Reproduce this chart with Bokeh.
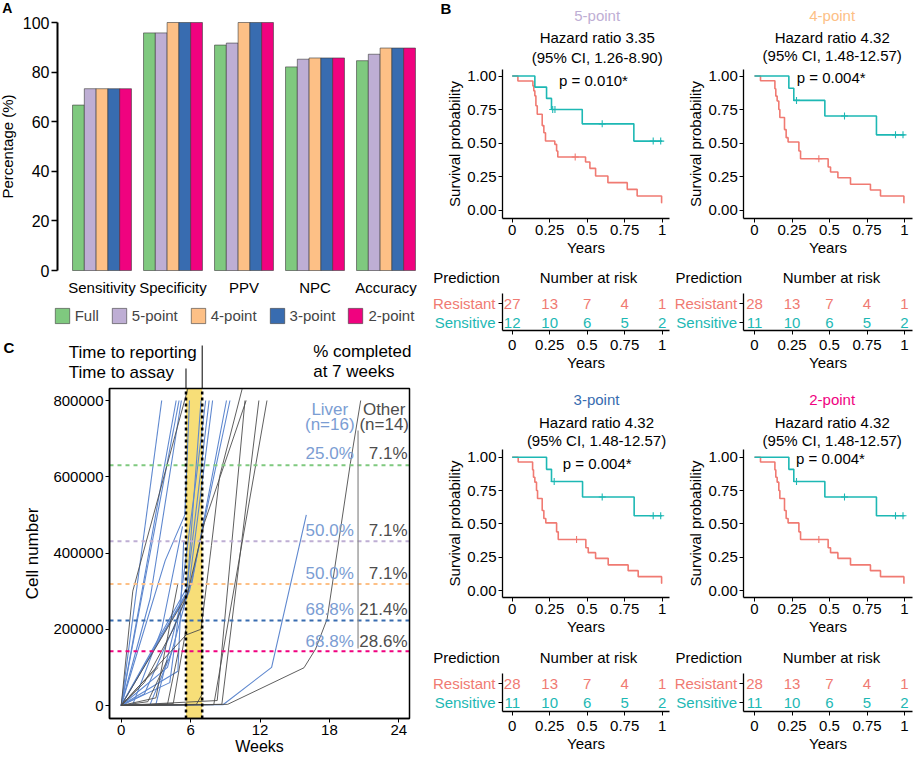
import numpy as np
from bokeh.plotting import figure
from bokeh.models import (ColumnDataSource, Range1d, FixedTicker, BoxAnnotation,
                          NumeralTickFormatter)
from bokeh.layouts import row, column
from bokeh.embed import file_html
from bokeh.resources import INLINE
from bokeh.core.properties import value
from bokeh.transform import dodge

FONT = "Liberation Sans"

# ---------------- Panel A data ----------------
metrics = ["Sensitivity", "Specificity", "PPV", "NPC", "Accuracy"]
models = ["Full", "5-point", "4-point", "3-point", "2-point"]
full_pct = [66.7, 95.8, 90.9, 82.1, 84.6]
p5_pct = [73.3, 95.8, 91.7, 85.2, 87.2]
p4_pct = [73.3, 100.0, 100.0, 85.7, 89.7]
p3_pct = [73.3, 100.0, 100.0, 85.7, 89.7]
p2_pct = [73.3, 100.0, 100.0, 85.7, 89.7]
model_colors = ["#7FC97F", "#BEAED4", "#FDC086", "#386CB0", "#F0027F"]

# ---------------- Panel B data ----------------
km_titles = ["5-point", "4-point", "3-point", "2-point"]
km_hr = ["Hazard ratio 3.35", "Hazard ratio 4.32", "Hazard ratio 4.32", "Hazard ratio 4.32"]
km_ci = ["(95% CI, 1.26-8.90)", "(95% CI, 1.48-12.57)", "(95% CI, 1.48-12.57)",
         "(95% CI, 1.48-12.57)"]
km_p = ["p = 0.010*", "p = 0.004*", "p = 0.004*", "p = 0.004*"]

km1_res_t = [0, 0.038, 0.138, 0.144, 0.151, 0.158, 0.167, 0.200, 0.211, 0.222, 0.284, 0.296,
             0.304, 0.489, 0.518, 0.556, 0.638, 0.767, 0.833, 0.996, 1.0]
km1_res_s = [1.0, 0.963, 0.926, 0.889, 0.852, 0.778, 0.714, 0.630, 0.577, 0.515, 0.490, 0.440,
             0.396, 0.358, 0.311, 0.254, 0.204, 0.154, 0.104, 0.055, 0.055]
km1_sen_t = [0, 0.151, 0.229, 0.262, 0.467, 0.811, 1.0]
km1_sen_s = [1.0, 0.917, 0.833, 0.750, 0.643, 0.514, 0.514]
km1_res_cens_t = [0.42]
km1_res_cens_s = [0.396]
km1_sen_cens_t = [0.27, 0.285, 0.60, 0.94, 0.99]
km1_sen_cens_s = [0.750, 0.750, 0.643, 0.514, 0.514]

km2_res_t = [0, 0.040, 0.136, 0.142, 0.151, 0.162, 0.169, 0.200, 0.211, 0.224, 0.296, 0.307,
             0.491, 0.507, 0.556, 0.640, 0.773, 0.840, 0.996, 1.0]
km2_res_s = [1.0, 0.964, 0.905, 0.850, 0.813, 0.750, 0.690, 0.600, 0.540, 0.507, 0.440, 0.383,
             0.321, 0.284, 0.241, 0.192, 0.149, 0.104, 0.055, 0.055]
km2_sen_t = [0, 0.229, 0.262, 0.469, 0.813, 1.0]
km2_sen_s = [1.0, 0.909, 0.818, 0.701, 0.561, 0.561]
km2_res_cens_t = [0.429]
km2_res_cens_s = [0.383]
km2_sen_cens_t = [0.28, 0.60, 0.94, 0.99]
km2_sen_cens_s = [0.818, 0.701, 0.561, 0.561]

risk_times = [0, 0.25, 0.5, 0.75, 1.0]
km1_risk_res = [27, 13, 7, 4, 1]
km1_risk_sen = [12, 10, 6, 5, 2]
km2_risk_res = [28, 13, 7, 4, 1]
km2_risk_sen = [11, 10, 6, 5, 2]

# ---------------- Panel C data ----------------
assay_week = 5.6
report_week = 7.0
thresholds = [630000, 431000, 319000, 223000, 142000]
liver_pct = ["25.0%", "50.0%", "50.0%", "68.8%", "68.8%"]
other_pct = ["7.1%", "7.1%", "7.1%", "21.4%", "28.6%"]

liver_weeks = [
    [0, 3.5], [0, 1.5, 4.75], [0, 5.0], [0, 2.5, 5.2], [0, 3.8, 5.5, 5.9],
    [0, 5.7, 6.9], [0, 5.6, 7.6], [0, 4.0, 5.8, 7.9], [0, 6.1, 9.1], [0, 2.0, 5.9, 9.4],
    [0, 8.8, 13.0, 16.0], [0, 4.9, 5.4], [0, 1.0, 3.5, 5.3], [0, 2.5, 4.5], [0, 3.0, 5.0],
    [0, 4.2, 6.5, 7.3]]
liver_cells = [
    [0, 800000], [0, 250000, 800000], [0, 800000], [0, 280000, 800000],
    [0, 380000, 500000, 800000], [0, 310000, 800000], [0, 290000, 800000],
    [0, 100000, 300000, 800000], [0, 320000, 800000], [0, 30000, 300000, 800000],
    [0, 2000, 100000, 500000], [0, 90000, 430000], [0, 3000, 200000, 470000], [0, 3000, 150000],
    [0, 3000, 250000], [0, 60000, 600000, 800000]]
other_weeks = [
    [0, 1.0, 5.75], [0, 5.6, 6.9, 7.8, 8.5, 10.45], [0, 8.3, 10.7], [0, 8.7, 11.9],
    [0, 9.2, 15.8, 16.8, 17.8, 19.8, 20.7], [0, 8.0, 12.6], [0, 5.7, 7.2, 10.8],
    [0, 2.0, 4.5, 5.8], [0, 4.0, 5.0], [0, 3.0, 4.9], [0, 6.5, 7.0], [0, 2.3, 4.0],
    [0, 1.5, 3.2], [0, 4.5, 5.6]]
other_cells = [
    [0, 300000, 830000], [0, 185000, 200000, 420000, 600000, 830000], [0, 13000, 800000],
    [0, 3000, 800000], [0, 3000, 99000, 148000, 227000, 634000, 800000], [0, 2000, 800000],
    [0, 290000, 480000, 800000], [0, 60000, 200000, 300000], [0, 3000, 150000],
    [0, 20000, 320000], [0, 3000, 30000], [0, 10000, 120000], [0, 50000, 100000],
    [0, 5000, 200000]]

RED = "#F07A72"
TEAL = "#1DB8B4"
LIVER = "#5F88CF"
LIVER_TXT = "#7B9DD3"
OTHER = "#4d4d4d"


class Frame:
    """Maps page pixels to data units for a figure whose frame fills the whole figure."""
    def __init__(self, ox, oy, w, h, x0px, xs, y0px, ys):
        self.ox, self.oy, self.w, self.h = ox, oy, w, h
        self.x0px, self.xs, self.y0px, self.ys = x0px, xs, y0px, ys
        self.xr = ((ox - x0px) / xs, (ox + w - x0px) / xs)
        self.yr = ((y0px - (oy + h)) / ys, (y0px - oy) / ys)

    def x(self, X):
        return (X - self.x0px) / self.xs

    def y(self, Y):
        return (self.y0px - Y) / self.ys


def make_fig(F):
    p = figure(width=F.w, height=F.h, output_backend="svg", toolbar_location=None,
               x_range=Range1d(*F.xr), y_range=Range1d(*F.yr), title=None,
               min_border=0, min_border_left=0, min_border_right=0, min_border_top=0,
               min_border_bottom=0)
    p.grid.visible = False
    p.outline_line_color = None
    p.background_fill_color = "white"
    p.border_fill_color = "white"
    return p


def style_axis(ax, size="15px", lsize="15px"):
    ax.major_label_text_font = FONT
    ax.major_label_text_font_size = size
    ax.major_label_text_color = "black"
    ax.axis_label_text_font = FONT
    ax.axis_label_text_font_size = lsize
    ax.axis_label_text_font_style = "normal"
    ax.axis_label_text_color = "black"
    ax.axis_line_color = "black"
    ax.major_tick_line_color = "black"
    ax.minor_tick_line_color = None
    ax.major_tick_in = 0


def txt(p, F, X, Y, text, size="15px", color="black", align="left", style="normal"):
    p.text(x=[F.x(X)], y=[F.y(Y)], text=[text], text_font=value(FONT),
           text_font_size=value(size), text_color=color, text_align=align,
           text_baseline="middle", text_font_style=style)


# ================= Panel A =================
FA = Frame(0, 0, 430, 330, 101.5, 71.0, 270.0, 2.48)
pA = make_fig(FA)
srcA = ColumnDataSource(dict(idx=list(range(len(metrics))), full=full_pct, p5=p5_pct,
                             p4=p4_pct, p3=p3_pct, p2=p2_pct))
bw = 0.166
for j, (col, name) in enumerate(zip(["full", "p5", "p4", "p3", "p2"], models)):
    pA.vbar(x=dodge("idx", (j - 2) * bw), top=col, width=bw, source=srcA,
            fill_color=model_colors[j], line_color="#3a3a3a", line_width=0.6, legend_label=name)
ya = pA.yaxis[0]
style_axis(ya, "16px", "15px")
ya.fixed_location = FA.x(57)
ya.bounds = (0, 100)
ya.ticker = FixedTicker(ticks=[0, 20, 40, 60, 80, 100])
ya.axis_label = "Percentage (%)"
ya.axis_line_width = 2
ya.major_tick_line_width = 1.5
ya.major_tick_out = 6
ya.major_label_standoff = 2
ya.axis_label_standoff = 4
xa = pA.xaxis[0]
style_axis(xa, "15px")
xa.fixed_location = 0
xa.ticker = FixedTicker(ticks=list(range(len(metrics))))
xa.major_label_overrides = {i: m for i, m in enumerate(metrics)}
xa.axis_line_color = None
xa.major_tick_line_color = None
xa.major_tick_out = 0
xa.major_label_standoff = 8
leg = pA.legend[0]
leg.location = (52.7, 5)
leg.orientation = "horizontal"
leg.glyph_width = 18
leg.glyph_height = 19
leg.label_height = 19
leg.label_standoff = 4
leg.spacing = 11
leg.padding = 0
leg.margin = 0
leg.border_line_color = None
leg.background_fill_alpha = 0
leg.label_text_font = FONT
leg.label_text_font_size = "15px"
txt(pA, FA, 1.7, 7.5, "A", size="14px", style="bold")

# ================= Panel C =================
FC = Frame(0, 330, 430, 428, 120.7, 11.57, 705.0, 305.0 / 800000)
pC = make_fig(FC)
box_l, box_r, box_b, box_t = FC.x(109), FC.x(409), FC.y(718), FC.y(388)
pC.quad(left=[assay_week], right=[report_week], bottom=[box_b], top=[box_t],
        fill_color="#F7DE78", line_color=None)
pC.multi_line(liver_weeks, liver_cells, line_color=LIVER, line_width=1.1)
pC.multi_line(other_weeks, other_cells, line_color=OTHER, line_width=0.9)
pC.segment(x0=[box_l] * len(thresholds), x1=[box_r] * len(thresholds), y0=thresholds,
           y1=thresholds, line_color=model_colors, line_width=2, line_dash="4 4")
pC.segment(x0=[assay_week, report_week], x1=[assay_week, report_week], y0=[box_b, box_b],
           y1=[box_t, box_t], line_color="black", line_width=2.5, line_dash="3 3")
pC.segment(x0=[report_week, assay_week], x1=[report_week, assay_week], y0=[box_t, box_t],
           y1=[FC.y(345), FC.y(368)], line_color="black", line_width=1)
pC.line([20.47, 20.47], [149500, 721000], line_color="#8a8a8a", line_width=1.2)
pC.add_layout(BoxAnnotation(left=box_l, right=box_r, bottom=box_b, top=box_t,
                            fill_color=None, fill_alpha=0, line_color="black",
                            line_alpha=1.0, line_width=1.5))
pc_rows = [660000, 459000, 345000, 251000, 168000]
pC.text(x=[18.03, 18.03], y=[776000, 737000], text=["Liver", "(n=16)"], text_color=LIVER_TXT,
        text_font=value(FONT), text_font_size=value("17px"), text_align="center",
        text_baseline="middle")
pC.text(x=[22.73, 22.73], y=[776000, 737000], text=["Other", "(n=14)"], text_color=OTHER,
        text_font=value(FONT), text_font_size=value("17px"), text_align="center",
        text_baseline="middle")
pC.text(x=[20.1] * 5, y=pc_rows, text=liver_pct, text_color=LIVER_TXT,
        text_font=value(FONT), text_font_size=value("17px"), text_align="right",
        text_baseline="middle")
pC.text(x=[24.75] * 5, y=pc_rows, text=other_pct, text_color=OTHER,
        text_font=value(FONT), text_font_size=value("17px"), text_align="right",
        text_baseline="middle")
xc, yc = pC.xaxis[0], pC.yaxis[0]
style_axis(xc, "15px", "16px")
style_axis(yc, "15px", "17px")
xc.fixed_location = box_b
xc.bounds = (box_l, box_r)
xc.ticker = FixedTicker(ticks=[0, 6, 12, 18, 24])
xc.axis_label = "Weeks"
xc.axis_line_width = 1.5
xc.major_tick_out = 4
xc.major_label_standoff = 2
xc.axis_label_standoff = 0
yc.fixed_location = box_l
yc.bounds = (box_b, box_t)
yc.ticker = FixedTicker(ticks=[0, 200000, 400000, 600000, 800000])
yc.formatter = NumeralTickFormatter(format="0")
yc.axis_label = "Cell number"
yc.axis_line_width = 1.5
yc.major_tick_out = 4
yc.major_label_standoff = 2
yc.axis_label_standoff = 8
txt(pC, FC, 3, 347, "C", size="15px", style="bold")
txt(pC, FC, 68.3, 351.7, "Time to reporting", size="17px")
txt(pC, FC, 68.3, 371.7, "Time to assay", size="17px")
txt(pC, FC, 312.7, 350.7, "% completed", size="17px")
txt(pC, FC, 312.7, 370.7, "at 7 weeks", size="17px")


# ================= Panel B =================
def km_plot(F, k, ax_px, ax_bot_px, ax_top_px, res_t, res_s, sen_t, sen_s,
            rct, rcs, sct, scs, cx, ys, pxy, letter=False):
    p = make_fig(F)
    p.step(res_t, res_s, mode="after", line_color=RED, line_width=1.6)
    p.step(sen_t, sen_s, mode="after", line_color=TEAL, line_width=1.6)
    p.scatter(rct, rcs, marker="cross", size=7, line_color=RED, line_width=1.1)
    p.scatter(sct, scs, marker="cross", size=7, line_color=TEAL, line_width=1.1)
    xk, yk = p.xaxis[0], p.yaxis[0]
    for ax in (xk, yk):
        style_axis(ax, "15px", "15px")
        ax.axis_line_width = 1.3
        ax.major_tick_out = 4
        ax.major_label_standoff = 2
        ax.axis_label_standoff = 1
    xk.fixed_location = F.y(ax_bot_px)
    xk.bounds = (F.x(ax_px), 1.05)
    xk.ticker = FixedTicker(ticks=risk_times)
    xk.formatter = NumeralTickFormatter(format="0.[00]")
    xk.axis_label = "Years"
    yk.fixed_location = F.x(ax_px)
    yk.bounds = (F.y(ax_bot_px), F.y(ax_top_px))
    yk.ticker = FixedTicker(ticks=[0, 0.25, 0.5, 0.75, 1.0])
    yk.formatter = NumeralTickFormatter(format="0.00")
    yk.axis_label = "Survival probability"
    txt(p, F, cx, ys[0], km_titles[k], color=model_colors[k + 1], align="center")
    txt(p, F, cx, ys[1], km_hr[k], align="center")
    txt(p, F, cx, ys[2], km_ci[k], align="center")
    txt(p, F, pxy[0], pxy[1], km_p[k], align="center")
    if letter:
        txt(p, F, 440, 8, "B", size="15px", style="bold")
    return p


def risk_table(F, ax_px, fr_bot_px, fr_top_px, res, sen, xs, ys):
    p = make_fig(F)
    p.text(x=risk_times, y=[2] * 5, text=[str(v) for v in res], text_color=RED,
           text_font=value(FONT), text_font_size=value("15px"), text_align="center",
           text_baseline="middle")
    p.text(x=risk_times, y=[1] * 5, text=[str(v) for v in sen], text_color=TEAL,
           text_font=value(FONT), text_font_size=value("15px"), text_align="center",
           text_baseline="middle")
    xk, yk = p.xaxis[0], p.yaxis[0]
    for ax in (xk, yk):
        style_axis(ax, "15px", "15px")
        ax.axis_line_width = 1.3
        ax.major_tick_out = 4
    xk.fixed_location = F.y(fr_bot_px)
    xk.bounds = (F.x(ax_px), 1.05)
    xk.ticker = FixedTicker(ticks=risk_times)
    xk.formatter = NumeralTickFormatter(format="0.[00]")
    xk.major_label_standoff = 5
    xk.axis_label_standoff = 1
    xk.axis_label = "Years"
    yk.fixed_location = F.x(ax_px)
    yk.bounds = (F.y(fr_bot_px), F.y(fr_top_px))
    yk.ticker = FixedTicker(ticks=[1, 2])
    yk.major_label_overrides = {1: "", 2: ""}
    yk.major_label_standoff = 0
    txt(p, F, xs[0], ys[0], "Prediction")
    txt(p, F, xs[1], ys[0], "Number at risk", align="center")
    txt(p, F, xs[2], F.y0px - 2 * F.ys, "Resistant", color=RED, align="right")
    txt(p, F, xs[2], F.y0px - 1 * F.ys, "Sensitive", color=TEAL, align="right")
    return p


F1 = Frame(430, 0, 242, 262, 511.7, 150.0, 209.5, 134.0)
F2 = Frame(672, 0, 243, 262, 754.0, 150.0, 209.5, 134.0)
R1 = Frame(430, 262, 242, 116, 511.7, 150.0, 341.0, 19.0)
R2 = Frame(672, 262, 243, 116, 754.0, 150.0, 341.0, 19.0)
F3 = Frame(430, 378, 242, 264, 511.7, 150.0, 590.0, 133.3)
F4 = Frame(672, 378, 243, 264, 754.0, 150.0, 590.0, 133.3)
R3 = Frame(430, 642, 242, 116, 511.7, 150.0, 721.0, 19.0)
R4 = Frame(672, 642, 243, 116, 754.0, 150.0, 721.0, 19.0)

km1 = km_plot(F1, 0, 502, 218, 69, km1_res_t, km1_res_s, km1_sen_t, km1_sen_s,
              km1_res_cens_t, km1_res_cens_s, km1_sen_cens_t, km1_sen_cens_s,
              596.7, (15, 36.7, 56.7), (593, 80), letter=True)
km2 = km_plot(F2, 1, 743.3, 218, 69, km2_res_t, km2_res_s, km2_sen_t, km2_sen_s,
              km2_res_cens_t, km2_res_cens_s, km2_sen_cens_t, km2_sen_cens_s,
              831.7, (15, 36.7, 55), (830.7, 77.3))
rt1 = risk_table(R1, 502, 330, 293, km1_risk_res, km1_risk_sen, (432.7, 588, 495),
                 (276.7,))
rt2 = risk_table(R2, 743.3, 330, 293, km2_risk_res, km2_risk_sen, (675, 831, 736.7),
                 (276.7,))
km3 = km_plot(F3, 2, 502, 597, 449, km2_res_t, km2_res_s, km2_sen_t, km2_sen_s,
              km2_res_cens_t, km2_res_cens_s, km2_sen_cens_t, km2_sen_cens_s,
              596, (399.3, 421.7, 440), (596.7, 462.7))
km4 = km_plot(F4, 3, 743.3, 597, 449, km2_res_t, km2_res_s, km2_sen_t, km2_sen_s,
              km2_res_cens_t, km2_res_cens_s, km2_sen_cens_t, km2_sen_cens_s,
              831.7, (399.3, 421.7, 440), (830, 458.3))
rt3 = risk_table(R3, 502, 711, 673, km2_risk_res, km2_risk_sen, (432.7, 588, 495),
                 (656.7,))
rt4 = risk_table(R4, 743.3, 711, 673, km2_risk_res, km2_risk_sen, (675, 831, 736.7),
                 (656.7,))

left_col = column(pA, pC, spacing=0)
right_col = column(row(km1, km2, spacing=0), row(rt1, rt2, spacing=0),
                   row(km3, km4, spacing=0), row(rt3, rt4, spacing=0), spacing=0)
layout = row(left_col, right_col, spacing=0)

open("out.html", "w").write(file_html(layout, INLINE))
